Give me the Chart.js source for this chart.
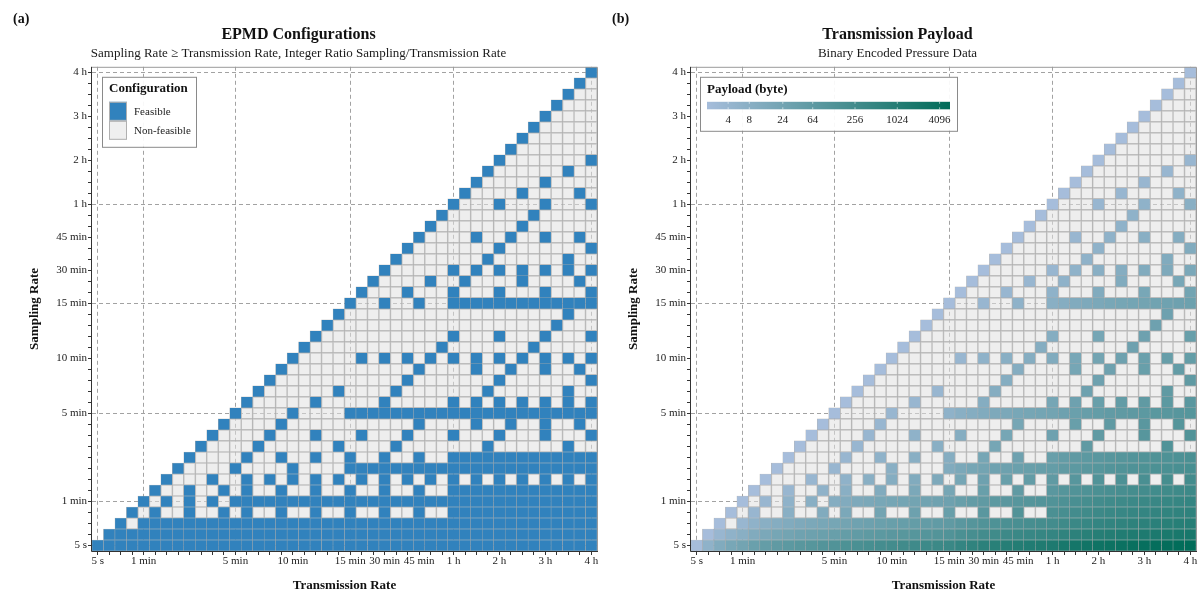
<!DOCTYPE html>
<html>
<head>
<meta charset="utf-8">
<script src="https://cdn.jsdelivr.net/npm/chart.js@4.4.1/dist/chart.umd.min.js"></script>
<style>
  html, body { margin: 0; padding: 0; background: #fff; }
  #wrap { position: relative; width: 1198px; height: 592px; overflow: hidden; }
  canvas { position: absolute; top: 0; }
  #cfg { left: 0; }
  #pay { left: 599px; }
</style>
</head>
<body>
<div id="wrap">
  <canvas id="cfg" width="599" height="592"></canvas>
  <canvas id="pay" width="599" height="592"></canvas>
</div>
<script>
// Update intervals, shared by the transmission axis (x) and the sampling axis (y)
const rateNames = [
  '5 s', '15 s', '30 s', '45 s',
  '1 min', '1.5 min', '2 min', '2.5 min', '3 min', '3.5 min', '4 min', '4.5 min', '5 min',
  '6 min', '7 min', '8 min', '9 min', '10 min', '11 min', '12 min', '13 min', '14 min', '15 min',
  '20 min', '25 min', '30 min', '35 min', '40 min', '45 min', '50 min', '55 min',
  '1 h', '1.25 h', '1.5 h', '1.75 h', '2 h', '2.25 h', '2.5 h', '2.75 h', '3 h', '3.25 h', '3.5 h', '3.75 h', '4 h'
];
const rateSeconds = [
  5, 15, 30, 45,
  60, 90, 120, 150, 180, 210, 240, 270, 300,
  360, 420, 480, 540, 600, 660, 720, 780, 840, 900,
  1200, 1500, 1800, 2100, 2400, 2700, 3000, 3300,
  3600, 4500, 5400, 6300, 7200, 8100, 9000, 9900, 10800, 11700, 12600, 13500, 14400
];
// Intervals that get a tick label, and the ones that get a dashed guide line
const labelledRates = ['5 s', '1 min', '5 min', '10 min', '15 min', '30 min', '45 min', '1 h', '2 h', '3 h', '4 h'];
const guideRates = ['5 s', '1 min', '5 min', '15 min', '1 h', '4 h'];

// Binary encoded pressure samples
const bytesPerSample = 2;
const payloadTicks = [4, 8, 24, 64, 256, 1024, 4096];
const configNames = ['Feasible', 'Non-feasible'];

// Colours
const FEASIBLE = '#3182bd';
const IDLE = 'rgba(224,224,224,0.55)';
const IDLE_SOLID = '#efefef';
const CELL_EDGE = 'rgba(160,160,160,0.8)';
const PAY_LOW = [166, 189, 219];
const PAY_HIGH = [1, 108, 89];
const SERIF = "'Liberation Serif', 'DejaVu Serif', serif";

const maxRatio = rateSeconds[rateSeconds.length - 1] / rateSeconds[0];
const payloadMin = bytesPerSample;
const payloadMax = bytesPerSample * maxRatio;

function mix(t) {
  const c = PAY_LOW.map((v, k) => Math.round(v + (PAY_HIGH[k] - v) * t));
  return `rgb(${c[0]},${c[1]},${c[2]})`;
}
function payloadColor(samples) {
  const payload = samples * bytesPerSample;
  const t = Math.log(payload / payloadMin) / Math.log(payloadMax / payloadMin);
  return mix(Math.max(0, Math.min(1, t)));
}

// One dataset per sampling interval: a floating bar per transmission interval
function buildDatasets(colorFor) {
  return rateSeconds.map((s, j) => ({
    label: rateNames[j],
    data: rateSeconds.map((t, i) => (i >= j ? [j - 0.5, j + 0.5] : null)),
    backgroundColor: rateSeconds.map((t) => (t % s === 0 ? colorFor(t / s) : IDLE)),
    borderColor: CELL_EDGE,
    borderWidth: 0.5,
    borderSkipped: false,
    grouped: false,
    barPercentage: 1,
    categoryPercentage: 1
  }));
}

const isGuide = (i) => guideRates.includes(rateNames[i]);
const isLabelled = (i) => labelledRates.includes(rateNames[i]);

function scalesConfig() {
  const tickFont = { family: SERIF, size: 11 };
  const titleFont = { family: SERIF, size: 13, weight: 'bold', lineHeight: 1 };
  const gridColor = (ctx) => (ctx.tick && isGuide(ctx.tick.value) ? '#a2a2a2' : 'rgba(0,0,0,0)');
  return {
    x: {
      type: 'category',
      labels: rateNames,
      offset: true,
      grid: { offset: false, color: gridColor, lineWidth: 1, tickColor: '#333', tickLength: 4, tickWidth: 1 },
      border: { display: false, dash: [4, 3] },
      ticks: {
        autoSkip: false, maxRotation: 0, minRotation: 0, padding: 0,
        color: '#1a1a1a', font: tickFont,
        callback: (v, i) => (isLabelled(i) ? rateNames[i] : '')
      },
      title: { display: true, text: 'Transmission Rate', color: '#111', font: titleFont, padding: { top: 0, bottom: 0 } },
      afterFit: (scale) => { scale.height = 41; }
    },
    y: {
      type: 'linear',
      min: -0.5,
      max: rateNames.length - 0.5,
      afterBuildTicks: (scale) => { scale.ticks = rateNames.map((_, i) => ({ value: i })); },
      grid: { color: gridColor, lineWidth: 1, tickColor: '#333', tickLength: 4, tickWidth: 1 },
      border: { display: false, dash: [4, 3] },
      ticks: {
        autoSkip: false, padding: 1, color: '#1a1a1a', font: tickFont,
        callback: (v, i) => (isLabelled(i) ? rateNames[i] : '')
      },
      title: { display: true, text: 'Sampling Rate', color: '#111', font: titleFont, padding: { top: 28, bottom: 0 } },
      afterFit: (scale) => { scale.width = 92; }
    }
  };
}

// Plot frame: dark axes on the left and bottom, light edge on top and right
const framePlugin = {
  id: 'frame',
  afterDatasetsDraw(chart) {
    const { ctx, chartArea: a } = chart;
    ctx.save();
    ctx.lineWidth = 1;
    ctx.strokeStyle = '#9a9a9a';
    ctx.beginPath();
    ctx.moveTo(a.left, a.top + 0.5); ctx.lineTo(a.right + 0.5, a.top + 0.5);
    ctx.lineTo(a.right + 0.5, a.bottom);
    ctx.stroke();
    ctx.strokeStyle = '#333';
    ctx.beginPath();
    ctx.moveTo(a.left - 0.5, a.top); ctx.lineTo(a.left - 0.5, a.bottom + 0.5);
    ctx.lineTo(a.right + 1, a.bottom + 0.5);
    ctx.stroke();
    ctx.restore();
  }
};

// Panel letter in the top-left corner
const letterPlugin = {
  id: 'letter',
  afterDraw(chart, args, opts) {
    const { ctx } = chart;
    ctx.save();
    ctx.font = `bold 14px ${SERIF}`;
    ctx.fillStyle = '#111';
    ctx.textBaseline = 'middle';
    ctx.textAlign = 'left';
    ctx.fillText(opts.text, 13, 19);
    ctx.restore();
  }
};

// Feasibility key
const configKeyPlugin = {
  id: 'configKey',
  afterDraw(chart) {
    const { ctx, chartArea: a } = chart;
    const x = a.left + 10, y = a.top + 10, w = 94, h = 70;
    ctx.save();
    ctx.fillStyle = 'rgba(255,255,255,0.92)';
    ctx.fillRect(x, y, w, h);
    ctx.strokeStyle = '#8a8a8a';
    ctx.lineWidth = 1;
    ctx.strokeRect(x + 0.5, y + 0.5, w, h);
    ctx.fillStyle = '#111';
    ctx.textBaseline = 'middle';
    ctx.font = `bold 13px ${SERIF}`;
    ctx.fillText('Configuration', x + 7, y + 12);
    const fills = [FEASIBLE, IDLE_SOLID];
    configNames.forEach((name, k) => {
      const sy = y + 25 + k * 19;
      ctx.fillStyle = fills[k];
      ctx.fillRect(x + 7, sy, 18, 19);
      ctx.strokeStyle = '#b0b0b0';
      ctx.strokeRect(x + 7.5, sy + 0.5, 17, 18);
      ctx.fillStyle = '#222';
      ctx.font = `11px ${SERIF}`;
      ctx.fillText(name, x + 32, sy + 10);
    });
    ctx.restore();
  }
};

// Payload colour bar
const payloadKeyPlugin = {
  id: 'payloadKey',
  afterDraw(chart) {
    const { ctx, chartArea: a } = chart;
    const x = a.left + 9, y = a.top + 10, w = 257, h = 54;
    ctx.save();
    ctx.fillStyle = 'rgba(255,255,255,0.92)';
    ctx.fillRect(x, y, w, h);
    ctx.strokeStyle = '#8a8a8a';
    ctx.lineWidth = 1;
    ctx.strokeRect(x + 0.5, y + 0.5, w, h);
    ctx.fillStyle = '#111';
    ctx.textBaseline = 'middle';
    ctx.font = `bold 13px ${SERIF}`;
    ctx.fillText('Payload (byte)', x + 7, y + 13);
    const bx = x + 7, by = y + 25, bw = 243, bh = 7.5;
    const grad = ctx.createLinearGradient(bx, 0, bx + bw, 0);
    grad.addColorStop(0, mix(0));
    grad.addColorStop(1, mix(1));
    ctx.fillStyle = grad;
    ctx.fillRect(bx, by, bw, bh);
    const span = Math.log(payloadMax / payloadMin);
    ctx.font = `11px ${SERIF}`;
    ctx.textAlign = 'center';
    payloadTicks.forEach((v) => {
      const px = bx + bw * Math.log(v / payloadMin) / span;
      ctx.strokeStyle = 'rgba(255,255,255,0.55)';
      ctx.beginPath();
      ctx.moveTo(px, by); ctx.lineTo(px, by + 2);
      ctx.moveTo(px, by + bh - 2); ctx.lineTo(px, by + bh);
      ctx.stroke();
      ctx.fillStyle = '#222';
      ctx.fillText(String(v), px, y + 43);
    });
    ctx.restore();
  }
};

function makeChart(id, letter, title, subtitle, colorFor, keyPlugin) {
  return new Chart(document.getElementById(id), {
    type: 'bar',
    data: { labels: rateNames, datasets: buildDatasets(colorFor) },
    options: {
      responsive: false,
      animation: false,
      events: [],
      layout: { padding: { left: 0, right: 2, top: 0, bottom: 0 } },
      scales: scalesConfig(),
      plugins: {
        legend: { display: false },
        tooltip: { enabled: false },
        title: {
          display: true, text: title, color: '#111',
          font: { family: SERIF, size: 16, weight: 'bold' },
          padding: { top: 25, bottom: 0 }
        },
        subtitle: {
          display: true, text: subtitle, color: '#1a1a1a',
          font: { family: SERIF, size: 13 },
          padding: { top: 2, bottom: 5 }
        },
        letter: { text: letter }
      }
    },
    plugins: [framePlugin, letterPlugin, keyPlugin]
  });
}

makeChart('cfg', '(a)', 'EPMD Configurations',
  'Sampling Rate \u2265 Transmission Rate, Integer Ratio Sampling/Transmission Rate',
  () => FEASIBLE, configKeyPlugin);
makeChart('pay', '(b)', 'Transmission Payload', 'Binary Encoded Pressure Data',
  payloadColor, payloadKeyPlugin);
</script>
</body>
</html>
